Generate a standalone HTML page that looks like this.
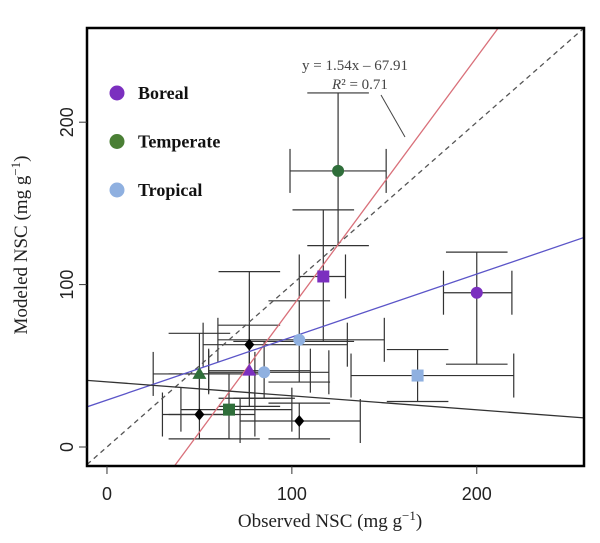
<!DOCTYPE html>
<html><head><meta charset="utf-8"><style>
html,body{margin:0;background:#fff;width:600px;height:543px;overflow:hidden}
svg{display:block}
.tk{font-family:"Liberation Sans",sans-serif;font-size:18px;fill:#222}
.lab{font-family:"Liberation Serif",serif;font-size:19px;fill:#222}
.leg{font-family:"Liberation Serif",serif;font-size:18px;font-weight:bold;fill:#111}
.ann{font-family:"Liberation Serif",serif;font-size:15px;fill:#444}
</style></head><body>
<svg id="chart" width="600" height="543" style="position:absolute;left:0;top:0">
</svg>
<script>
const names=["purple-square","purple-circle","green-circle","blue-square","blue-circle-1","blue-circle-2","purple-triangle","green-triangle","green-square","black-diamond-1","black-diamond-2","black-diamond-3"];
const obsX=[117,200,125,168,104,85,77,50,66,77,50,104];
const modY=[105,95,170,44,66,46,47,45,23,63,20,16];
const xLo=[104,182,99,132,60,55,55,25,40,52,30,72];
const xHi=[129,219,151,220,150,120,110,80,100,130,80,137];
const yLo=[65,51,124,28,40,30,25,20,5,30,5,5];
const yHi=[146,120,218,60,90,65,75,70,45,108,45,27];
const shapes=["square","circle","circle","square","circle","circle","triangle","triangle","square","diamond","diamond","diamond"];
const colors=["#7b2fbf","#7b2fbf","#2f6e3a","#8fb0e0","#8fb0e0","#8fb0e0","#7b2fbf","#2f6e3a","#2f6e3a","#000","#000","#000"];
const xTicks=[0,100,200];
const yTicks=[0,100,200];
const fitRed=[1.54,-67.91];
const fitBlue=[0.388,28.9];
const fitBlack=[-0.086,40.1];
const legendLabels=["Boreal","Temperate","Tropical"];
const legendColors=["#7b2fbf","#4a7f35","#8fb0e0"];

const L=87,R=584,T=28,B=466;
const xmin=-10.8,xmax=258,ymin=-11.7,ymax=258;
const sx=v=>L+(v-xmin)/(xmax-xmin)*(R-L);
const sy=v=>B-(v-ymin)/(ymax-ymin)*(B-T);
const svg=document.getElementById('chart');
const NS="http://www.w3.org/2000/svg";
function mk(t,a,p){const e=document.createElementNS(NS,t);for(const k in a)e.setAttribute(k,a[k]);(p||svg).appendChild(e);return e;}

const defs=mk('defs',{});
const cp=mk('clipPath',{id:'clip'},defs);mk('rect',{x:L,y:T,width:R-L,height:B-T},cp);
const plot=mk('g',{'clip-path':'url(#clip)'});



for(let i=0;i<obsX.length;i++){
  const g=mk('g',{stroke:'#333','stroke-width':1.2,fill:'none'},plot);
  
  
  const cx=sx(obsX[i]),cy=sy(modY[i]),c=22;
  mk('line',{x1:sx(xLo[i]),x2:sx(xHi[i]),y1:cy,y2:cy},g);
  mk('line',{x1:sx(xLo[i]),x2:sx(xLo[i]),y1:cy-c,y2:cy+c},g);
  mk('line',{x1:sx(xHi[i]),x2:sx(xHi[i]),y1:cy-c,y2:cy+c},g);
  mk('line',{x1:cx,x2:cx,y1:sy(yLo[i]),y2:sy(yHi[i])},g);
  mk('line',{x1:cx-c*1.4,x2:cx+c*1.4,y1:sy(yLo[i]),y2:sy(yLo[i])},g);
  mk('line',{x1:cx-c*1.4,x2:cx+c*1.4,y1:sy(yHi[i]),y2:sy(yHi[i])},g);
}
function fline(f,col,name,dash){
  const e=mk('line',{x1:sx(xmin),y1:sy(f[0]*xmin+f[1]),x2:sx(xmax),y2:sy(f[0]*xmax+f[1]),stroke:col,'stroke-width':1.3},plot);
  if(dash)e.setAttribute('stroke-dasharray',dash);
  
  
}
fline([1,0],'#555','one-to-one-line','5,4');
fline(fitRed,'#d9707a','regression-line-red');
fline(fitBlue,'#5b55c8','regression-line-blue');
fline(fitBlack,'#333','regression-line-black');

for(let i=0;i<obsX.length;i++){
  const cx=sx(obsX[i]),cy=sy(modY[i]),c=colors[i];let e;
  if(shapes[i]=='circle')e=mk('circle',{cx:cx,cy:cy,r:6,fill:c},plot);
  else if(shapes[i]=='square')e=mk('rect',{x:cx-6,y:cy-6,width:12,height:12,fill:c},plot);
  else if(shapes[i]=='triangle')e=mk('polygon',{points:`${cx},${cy-7} ${cx-7},${cy+5} ${cx+7},${cy+5}`,fill:c},plot);
  else e=mk('polygon',{points:`${cx},${cy-6} ${cx+5},${cy} ${cx},${cy+6} ${cx-5},${cy}`,fill:c},plot);
  
  
}
const fr=mk('rect',{x:L,y:T,width:R-L,height:B-T,fill:'none',stroke:'#000','stroke-width':2.5});


xTicks.forEach(v=>{
  const x=sx(v);
  mk('line',{x1:x,x2:x,y1:B,y2:B+8,stroke:'#333'});
  const t=mk('text',{x:x,y:B+34,'text-anchor':'middle',class:'tk'});t.textContent=v;
  
  
});
yTicks.forEach(v=>{
  const y=sy(v);
  mk('line',{x1:L-8,x2:L,y1:y,y2:y,stroke:'#333'});
  const t=mk('text',{x:0,y:0,'text-anchor':'middle',class:'tk',transform:`translate(73,${y}) rotate(-90)`});t.textContent=v;
  
  
});
legendLabels.forEach((lb,i)=>{
  const y=93+i*48.5;
  const g=mk('g',{});
  
  
  mk('circle',{cx:117,cy:y,r:7.5,fill:legendColors[i]},g);
  const t=mk('text',{x:138,y:y+6,class:'leg'},g);t.textContent=lb;
});
</script>
<svg style="position:absolute;left:0;top:0" width="600" height="543">
<text class="ann" x="355" y="70" text-anchor="middle">y = 1.54x – 67.91</text>
<text class="ann" x="360" y="89" text-anchor="middle"><tspan font-style="italic">R</tspan>² = 0.71</text>
<line x1="381" y1="95" x2="405" y2="137" stroke="#444" stroke-width="1"/>
<text class="lab" x="330" y="527" text-anchor="middle">Observed NSC (mg g<tspan dy="-7" font-size="13">−1</tspan><tspan dy="7">)</tspan></text>
<text class="lab" transform="translate(27,245) rotate(-90)" text-anchor="middle">Modeled NSC (mg g<tspan dy="-7" font-size="13">−1</tspan><tspan dy="7">)</tspan></text>
</svg>
</body></html>
